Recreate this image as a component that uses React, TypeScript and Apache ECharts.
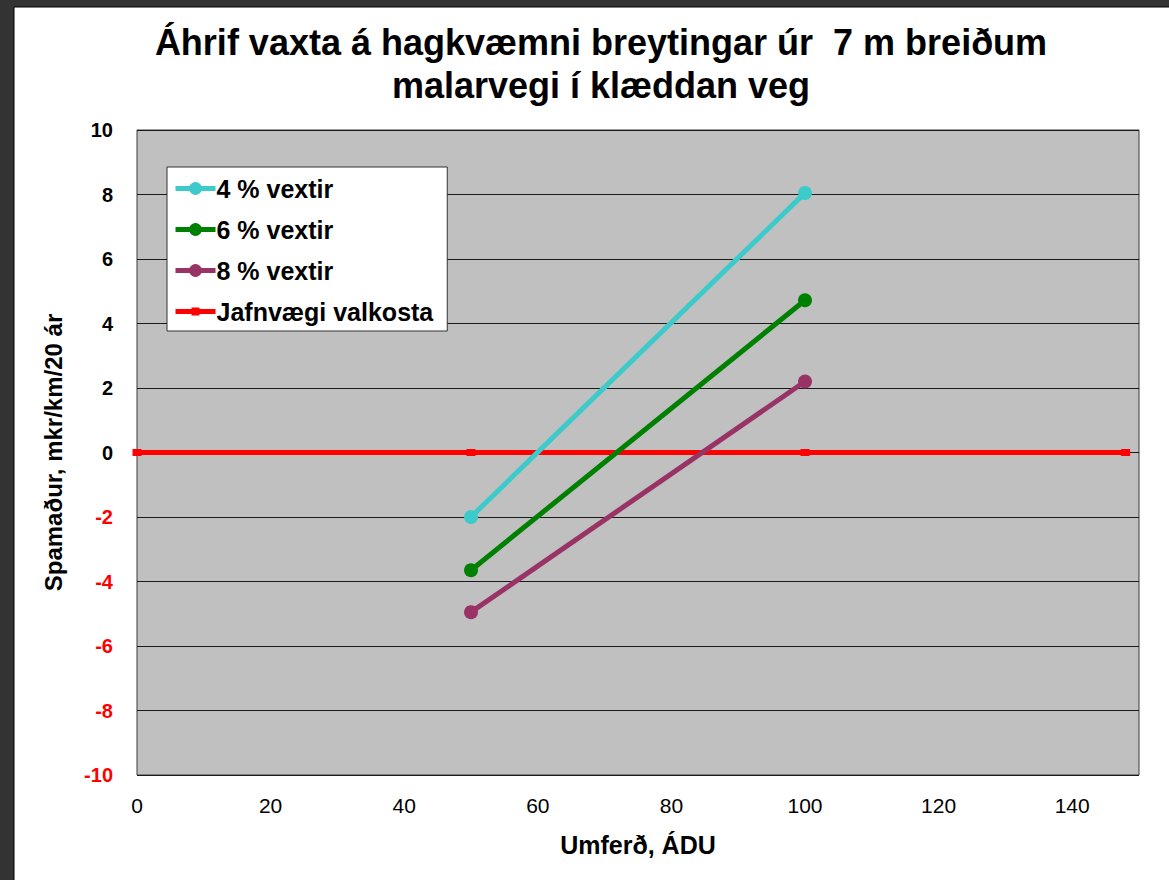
import React, { useEffect, useRef } from "react";
import * as echarts from "echarts";

const TITLE = "Áhrif vaxta á hagkvæmni breytingar úr  7 m breiðum\nmalarvegi í klæddan veg";
const X_NAME = "Umferð, ÁDU";
const Y_NAME = "Spamaður, mkr/km/20 ár";

const X_VALUES = [50, 100];
const V4 = [-2.0, 8.05];
const V6 = [-3.65, 4.72];
const V8 = [-4.95, 2.2];
const EQ_X = [0, 50, 100, 148];
const EQ_Y = [0, 0, 0, 0];

const NAMES = ["4 % vextir", "6 % vextir", "8 % vextir", "Jafnvægi valkosta"];
const COLORS = ["#3ccaca", "#008000", "#993366", "#ff0000"];

const FONT = '"Liberation Sans", Arial, Helvetica, sans-serif';
const EQ_ICON = "path://M0 5.5h16v-1.5h8v1.5h16v5h-16v1.5h-8v-1.5h-16z";

export default function App() {
  const ref = useRef<HTMLDivElement>(null);
  useEffect(() => {
    if (!ref.current) return;
    const chart = echarts.init(ref.current, null, { renderer: "svg" });
    const pair = (xs: number[], ys: number[]) => xs.map((x, i) => [x, ys[i]]);
    const lineSeries = (name: string, data: number[][], color: string) => ({
      name,
      type: "line",
      data,
      symbol: "circle",
      symbolSize: 14,
      itemStyle: { color },
      lineStyle: { color, width: 5 },
      z: 3,
    });
    chart.setOption({
      animation: false,
      backgroundColor: "#333333",
      graphic: [
        {
          type: "rect",
          z: -100,
          silent: true,
          shape: { x: 14, y: 7, width: 1160, height: 880 },
          style: { fill: "#ffffff", stroke: "#000000", lineWidth: 1 },
        },
      ],
      title: {
        text: TITLE,
        left: 596,
        top: 16,
        textAlign: "center",
        textStyle: { fontFamily: FONT, fontSize: 36, fontWeight: "bold", lineHeight: 43, color: "#000" },
      },
      legend: {
        orient: "vertical",
        left: 167,
        top: 167,
        backgroundColor: "#ffffff",
        borderColor: "#333333",
        borderWidth: 1,
        borderRadius: 0,
        padding: [9, 14, 7, 6],
        itemGap: 16,
        itemWidth: 40,
        itemHeight: 16,
        lineStyle: { width: 5 },
        data: [
          { name: NAMES[0] },
          { name: NAMES[1] },
          { name: NAMES[2] },
          { name: NAMES[3], icon: EQ_ICON },
        ],
        textStyle: { fontFamily: FONT, fontSize: 25, fontWeight: "bold", color: "#000", lineHeight: 24, padding: [0, 0, 0, -4] },
      },
      grid: {
        left: 137,
        top: 130,
        right: 30,
        bottom: 105,
        show: true,
        backgroundColor: "#c0c0c0",
        borderColor: "#3a3a3a",
        borderWidth: 1,
        containLabel: false,
      },
      xAxis: {
        type: "value",
        min: 0,
        max: 150,
        interval: 20,
        name: X_NAME,
        nameLocation: "middle",
        nameGap: 57,
        nameTextStyle: { fontFamily: FONT, fontSize: 25, fontWeight: "bold", color: "#000" },
        axisLine: { show: false },
        axisTick: { show: false },
        splitLine: { show: false },
        axisLabel: {
          showMaxLabel: false,
          margin: 20,
          fontFamily: FONT,
          fontSize: 21,
          color: "#000",
        },
      },
      yAxis: {
        type: "value",
        min: -10,
        max: 10,
        interval: 2,
        name: Y_NAME,
        nameLocation: "middle",
        nameRotate: 90,
        nameGap: 72,
        nameTextStyle: { fontFamily: FONT, fontSize: 24, fontWeight: "bold", color: "#000" },
        axisLine: { show: false },
        axisTick: { show: false },
        splitLine: { show: true, lineStyle: { color: "#1a1a1a", width: 1 } },
        axisLabel: {
          margin: 24,
          fontFamily: FONT,
          fontSize: 20,
          fontWeight: "bold",
          color: (v: any) => (Number(v) < 0 ? "#ff0000" : "#000000"),
        },
      },
      series: [
        lineSeries(NAMES[0], pair(X_VALUES, V4), COLORS[0]),
        lineSeries(NAMES[1], pair(X_VALUES, V6), COLORS[1]),
        lineSeries(NAMES[2], pair(X_VALUES, V8), COLORS[2]),
        {
          name: NAMES[3],
          type: "line",
          data: pair(EQ_X, EQ_Y),
          symbol: "rect",
          symbolSize: [9, 7],
          itemStyle: { color: COLORS[3] },
          lineStyle: { color: COLORS[3], width: 5 },
          z: 2,
        },
      ],
    });
    return () => chart.dispose();
  }, []);
  return (
    <div
      ref={ref}
      style={{ position: "absolute", left: 0, top: 0, width: 1169, height: 880 }}
    />
  );
}
